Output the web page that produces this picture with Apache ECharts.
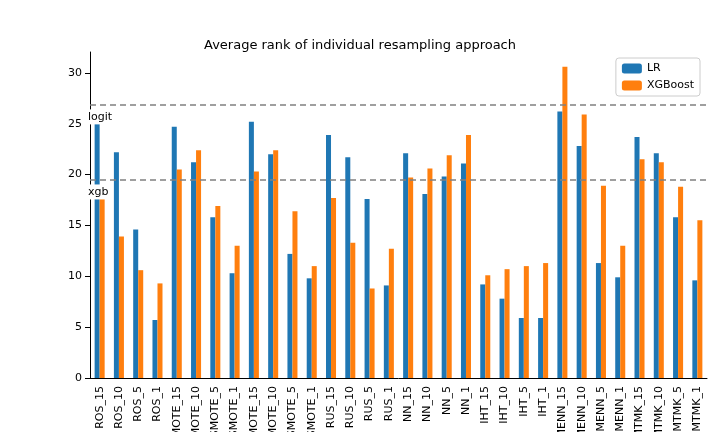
<!DOCTYPE html>
<html><head><meta charset="utf-8">
<script src="https://cdn.jsdelivr.net/npm/echarts@6/dist/echarts.min.js"></script>
<style>body{margin:0}#main{width:720px;height:432px}</style>
</head><body><div id="main"></div>
<script>
const categories = ['ROS_15','ROS_10','ROS_5','ROS_1','SMOTE_15','SMOTE_10','SMOTE_5','SMOTE_1',
  'BSMOTE_15','BSMOTE_10','BSMOTE_5','BSMOTE_1','RUS_15','RUS_10','RUS_5','RUS_1',
  'NN_15','NN_10','NN_5','NN_1','IHT_15','IHT_10','IHT_5','IHT_1',
  'SMENN_15','SMENN_10','SMENN_5','SMENN_1','SMTMK_15','SMTMK_10','SMTMK_5','SMTMK_1'];
const lrValues = [25.8,22.2,14.6,5.7,24.7,21.2,15.8,10.3,25.2,22.0,12.2,9.8,23.9,21.7,17.6,9.1,
  22.1,18.1,19.8,21.1,9.2,7.8,5.9,5.9,26.2,22.8,11.3,9.9,23.7,22.1,15.8,9.6];
const xgbValues = [18.1,13.9,10.6,9.3,20.5,22.4,16.9,13.0,20.3,22.4,16.4,11.0,17.7,13.3,8.8,12.7,
  19.7,20.6,21.9,23.9,10.1,10.7,11.0,11.3,30.6,25.9,18.9,13.0,21.5,21.2,18.8,15.5];
const logitRef = 26.85;
const xgbRef = 19.47;

const chart = echarts.init(document.getElementById('main'));
const refLabel = {
  position: 'insideStart', color: '#000', fontSize: 11, backgroundColor: '#fff',
  padding: [2, 3], offset: [-10, 12]
};
chart.setOption({
  animation: false,
  textStyle: { fontFamily: 'DejaVu Sans' },
  title: { text: 'Average rank of individual resampling approach', left: 'center', top: 34,
    textStyle: { fontSize: 13, fontWeight: 'normal', color: '#000' } },
  legend: { orient: 'vertical', right: 20, top: 58, itemWidth: 20, itemHeight: 10,
    borderColor: '#ccc', borderWidth: 1, borderRadius: 3, padding: [5, 6], itemGap: 6,
    textStyle: { fontSize: 11, color: '#000' } },
  grid: { left: 90, right: 13, top: 52, bottom: 54, containLabel: false, outerBoundsMode: 'none' },
  xAxis: { type: 'category', data: categories,
    axisLine: { lineStyle: { color: '#000' } }, axisTick: { alignWithLabel: true, lineStyle: { color: '#000' } },
    axisLabel: { rotate: 90, interval: 0, color: '#000', fontSize: 11 } },
  yAxis: { type: 'value', min: 0, max: 32.05, interval: 5, splitLine: { show: false },
    axisLine: { show: true, lineStyle: { color: '#000' } }, axisTick: { show: true },
    axisLabel: { color: '#000', fontSize: 11, showMaxLabel: false } },
  series: [
    { name: 'LR', type: 'bar', data: lrValues, itemStyle: { color: '#1f77b4' }, barGap: '0%', barCategoryGap: '48%',
      markLine: { silent: true, symbol: 'none', lineStyle: { color: '#808080', type: [6, 4], width: 1.5 },
        label: refLabel,
        data: [ { yAxis: logitRef, label: Object.assign({}, refLabel, { formatter: 'logit' }) },
                { yAxis: xgbRef, label: Object.assign({}, refLabel, { formatter: 'xgb' }) } ] } },
    { name: 'XGBoost', type: 'bar', data: xgbValues, itemStyle: { color: '#ff7f0e' } }
  ]
});
</script></body></html>
